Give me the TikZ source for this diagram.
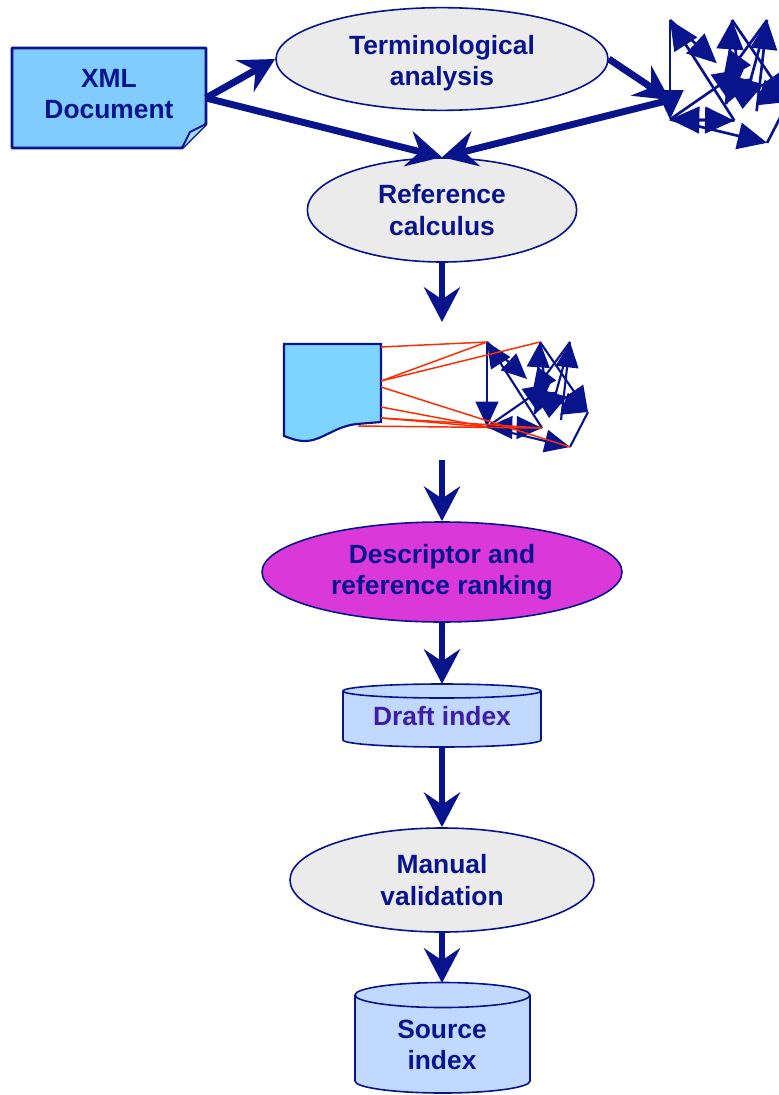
\documentclass[tikz,border=0pt]{standalone}
\usepackage{fontspec}
\setmainfont{Liberation Sans}
\usetikzlibrary{arrows.meta,shapes.geometric}
\definecolor{dblue}{RGB}{8,20,140}
\definecolor{ellgray}{RGB}{235,235,235}
\definecolor{xmlfill}{RGB}{128,204,255}
\definecolor{docfill}{RGB}{125,212,255}
\definecolor{magfill}{RGB}{218,56,216}
\definecolor{cylfill}{RGB}{194,217,255}
\definecolor{drafttxt}{RGB}{60,30,168}
\definecolor{redline}{RGB}{255,42,0}
\tikzset{
  lbl/.style={font=\fontsize{19.8}{23.5}\selectfont\bfseries, text=dblue, align=center},
  ellbox/.style={ellipse, draw=dblue, line width=1.2pt, inner sep=0pt, fill=ellgray},
  bigarrow/.style={draw=dblue, line width=5.2pt, -{Stealth[length=26pt,width=27pt,inset=9pt]}},
  gedge/.style={draw=dblue, line width=\glw, -{Triangle[length=\gal,width=\gaw]}},
  gline/.style={draw=dblue, line width=\glw},
  redl/.style={draw=redline, line width=1.1pt},
}
\newcommand\glw{1.6pt}
\newcommand\gal{19pt}
\newcommand\gaw{17pt}
\newcommand\blobgraph[3]{%
  \begin{scope}[shift={#2}, scale=#3]
    \coordinate (#1A) at (0,0);
    \coordinate (#1B) at (53,0);
    \coordinate (#1C) at (83,0);
    \coordinate (#1D) at (0,85);
    \coordinate (#1E) at (55,86);
    \coordinate (#1F) at (101,70);
    \coordinate (#1G) at (83,105);
    \coordinate (#1M) at (45,52);
    \coordinate (#1P) at (40,37);
    \coordinate (#1S) at (62,42);
    \coordinate (#1U) at (48,72);
    \coordinate (#1V) at (62,76);
    \coordinate (#1W) at (74,78);
    \coordinate (#1X) at (66,58);
  \end{scope}
  \draw[gedge] (#1E) -- (#1A);
  \draw[gedge] (#1A) -- (#1D);
  \draw[gedge] (#1A) -- (#1P);
  \draw[gedge] (#1U) -- (#1B);
  \draw[gedge] (#1W) -- (#1C);
  \draw[gedge] (#1C) -- (#1V);
  \draw[gedge] (#1B) -- (#1F);
  \draw[gedge] (#1D) -- (#1E);
  \draw[gedge] (#1E) -- (#1D);
  \draw[gedge] (#1D) -- (#1G);
  \draw[gline] (#1G) -- (#1F);
  \draw[gedge] (#1D) -- (#1S);
  \draw[gedge] (#1C) -- (#1M);
  \draw[gedge] (#1B) -- (#1V);
  \draw[gedge] (#1X) -- (#1F);
  \draw[gedge] (#1S) -- (#1U);
}
\begin{document}
\begin{tikzpicture}[x=0.75pt,y=-0.75pt]
\useasboundingbox (0,0) rectangle (778,1095);

% XML document
\draw[draw=dblue, line width=2.2pt, fill=xmlfill, line join=round]
  (12,48) -- (206,48) -- (206,124) -- (182,148) -- (12,148) -- cycle;
\draw[draw=dblue, line width=1.5pt, fill=xmlfill!70!white, line join=round]
  (182,148) -- (190,132) -- (206,124);
\node[minimum width=145pt, minimum height=75pt, inner sep=0pt] (xml) at (109,98) {};
\node[lbl] (xmltxt) at ([yshift=3pt]xml.center) {XML\\Document};

% ellipses
\node[ellbox, minimum width=249pt, minimum height=77pt] (term) at (442,59) {};
\node[lbl] (termtxt) at ([yshift=-3pt]term.center) {Terminological\\analysis};
\node[ellbox, minimum width=202pt, minimum height=78pt, lbl] (ref) at (442,210) {Reference\\calculus};
\node[ellbox, fill=magfill, minimum width=270pt, minimum height=75pt, lbl] (desc) at (442,572) {Descriptor and\\reference ranking};
\node[ellbox, minimum width=228pt, minimum height=78pt, lbl] (man) at (442,880) {Manual\\validation};

% top-right graph
\begingroup
\renewcommand\glw{2pt}\renewcommand\gal{22pt}\renewcommand\gaw{20pt}
\blobgraph{t}{(670,20)}{1.17}
\endgroup
\coordinate (tin) at (670,100);

% middle document with wavy bottom
\draw[draw=dblue, line width=1.6pt, fill=docfill]
  (284,344) -- (381,344) -- (381,422) -- (357,424)
  .. controls (335,426) and (322,441) .. (305,441)
  .. controls (296,441) and (290,438) .. (284,436) -- cycle;
\coordinate (dR1) at (381,347);
\coordinate (dR2) at (381,381);
\coordinate (dR3) at (381,387);
\coordinate (dR4) at (381,407);
\coordinate (dR5) at (381,418);
\coordinate (dB1) at (358,426);

% middle graph
\blobgraph{m}{(487,342)}{1}
\draw[redl] (dR1) -- (mA);
\draw[redl] (dR2) -- (mA);
\draw[redl] (dR2) -- (mB);
\draw[redl] (dR3) -- (mG);
\draw[redl] (dR4) -- (mD);
\draw[redl] (dR5) -- (mD);
\draw[redl] (dR5) -- (mE);
\draw[redl] (dB1) -- (mE);
\coordinate (mArr) at (442,322);
\coordinate (gOut) at (442,460);

% cylinders
\draw[draw=dblue, line width=1.2pt, fill=cylfill]
  (343,691) -- (343,740) arc[start angle=180, end angle=0, x radius=99, y radius=7]
  -- (541,691) arc[start angle=0, end angle=-180, x radius=99, y radius=7] -- cycle;
\draw[draw=dblue, line width=1.2pt] (343,691) arc[start angle=180, end angle=0, x radius=99, y radius=7];
\node[lbl, text=drafttxt, minimum width=148pt, minimum height=45pt, inner sep=0pt] (draft) at (442,716) {Draft index};
\coordinate (draftTop) at (442,684);
\coordinate (draftBot) at (442,747);

\draw[draw=dblue, line width=1.2pt, fill=cylfill]
  (355,995) -- (355,1081) arc[start angle=180, end angle=0, x radius=87.5, y radius=12]
  -- (530,995) arc[start angle=0, end angle=-180, x radius=87.5, y radius=12.5] -- cycle;
\draw[draw=dblue, line width=1.2pt] (355,995) arc[start angle=180, end angle=0, x radius=87.5, y radius=12.5];
\node[lbl, minimum width=130pt, minimum height=70pt, inner sep=0pt] (src) at (442,1045) {Source\\index};
\coordinate (srcTop) at (442,983);

% big arrows
\draw[bigarrow] (xml.east) -- (term.west);
\draw[bigarrow] (xml.east) -- (ref.north);
\draw[bigarrow] (term.east) -- (tin);
\draw[bigarrow] (tin) -- (ref.north);
\draw[bigarrow] (ref.south) -- (mArr);
\draw[bigarrow] (gOut) -- (desc.north);
\draw[bigarrow] (desc.south) -- (draftTop);
\draw[bigarrow] (draftBot) -- (man.north);
\draw[bigarrow] (man.south) -- (srcTop);
\end{tikzpicture}
\end{document}
